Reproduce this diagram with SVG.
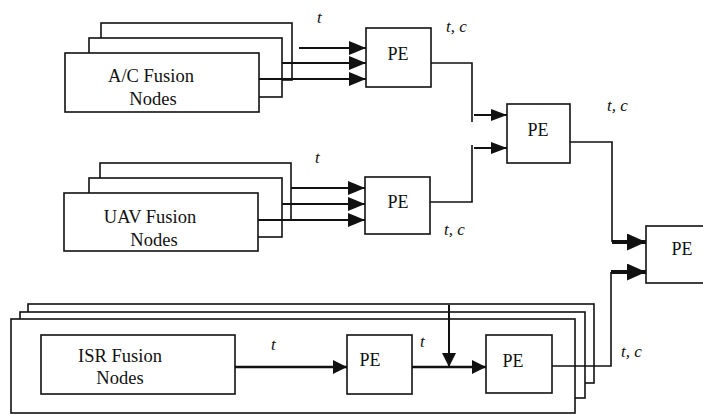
<svg xmlns="http://www.w3.org/2000/svg" width="703" height="415" viewBox="0 0 703 415">
<style>
.box{fill:#fff;stroke:#111;stroke-width:1.6}
.ln{fill:none;stroke:#111;stroke-width:1.6}
.ar{fill:none;stroke:#111;stroke-width:2}
.arb{fill:none;stroke:#111;stroke-width:2.6}
.arx{fill:none;stroke:#111;stroke-width:4}
.lbl{font-family:"Liberation Serif",serif;font-size:18.5px;fill:#111;text-anchor:middle}
.pe{font-family:"Liberation Serif",serif;font-size:18px;fill:#111;text-anchor:middle}
.it{font-family:"Liberation Serif",serif;font-size:17px;font-style:italic;fill:#111}
</style>
<defs>
<marker id="ah" markerWidth="17" markerHeight="14" refX="17" refY="7" orient="auto" markerUnits="userSpaceOnUse"><path d="M0,0 L17,7 L0,14 z" fill="#111"/></marker>
<marker id="ahs" markerWidth="16" markerHeight="12" refX="16" refY="6" orient="auto" markerUnits="userSpaceOnUse"><path d="M0,0 L16,6 L0,12 z" fill="#111"/></marker>
<marker id="ahi" markerWidth="14" markerHeight="14" refX="14" refY="7" orient="auto" markerUnits="userSpaceOnUse"><path d="M0,0 L14,7 L0,14 z" fill="#111"/></marker>
<marker id="ahb" markerWidth="19" markerHeight="17" refX="19" refY="8.5" orient="auto" markerUnits="userSpaceOnUse"><path d="M0,0 L19,8.5 L0,17 z" fill="#111"/></marker>
</defs>

<g id="ac-nodes">
<rect class="box" x="101" y="23" width="191" height="57"/>
<rect class="box" x="89" y="38" width="193" height="59"/>
<rect class="box" x="65" y="53" width="194" height="59"/>
<text class="lbl" x="151" y="82">A/C Fusion</text>
<text class="lbl" x="153" y="105">Nodes</text>
</g>

<g id="uav-nodes">
<rect class="box" x="100" y="163" width="191" height="57"/>
<rect class="box" x="89" y="178" width="193" height="59"/>
<rect class="box" x="64" y="193" width="194" height="58"/>
<text class="lbl" x="150" y="223">UAV Fusion</text>
<text class="lbl" x="154" y="246">Nodes</text>
</g>

<g id="isr-stack">
<rect class="box" x="28" y="304" width="566" height="79"/>
<rect class="box" x="20" y="312" width="565" height="86"/>
<rect class="box" x="11" y="319" width="564" height="94"/>
</g>

<g id="isr-nodes">
<rect class="box" x="41" y="335" width="194" height="59"/>
<text class="lbl" x="120" y="362">ISR Fusion</text>
<text class="lbl" x="120" y="384">Nodes</text>
</g>

<g id="pe-ac">
<rect class="box" x="366" y="28" width="65" height="59"/>
<text class="pe" x="398" y="60">PE</text>
</g>
<g id="pe-uav">
<rect class="box" x="365" y="177" width="65" height="57"/>
<text class="pe" x="398" y="208">PE</text>
</g>
<g id="pe-mid">
<rect class="box" x="507" y="104" width="63" height="59"/>
<text class="pe" x="538" y="136">PE</text>
</g>
<g id="pe-final">
<rect class="box" x="646" y="226" width="70" height="57"/>
<text class="pe" x="682" y="255">PE</text>
</g>
<g id="pe-isr1">
<rect class="box" x="347" y="335" width="65" height="59"/>
<text class="pe" x="370" y="366">PE</text>
</g>
<g id="pe-isr2">
<rect class="box" x="486" y="335" width="66" height="58"/>
<text class="pe" x="513" y="367">PE</text>
</g>

<g id="connectors">
<line class="ar" x1="299" y1="48" x2="366" y2="48" marker-end="url(#ah)"/>
<line class="ar" x1="282" y1="63" x2="366" y2="63" marker-end="url(#ah)"/>
<line class="ar" x1="259" y1="79" x2="366" y2="79" marker-end="url(#ah)"/>
<line class="ar" x1="291" y1="188" x2="365" y2="188" marker-end="url(#ah)"/>
<line class="ar" x1="282" y1="204" x2="365" y2="204" marker-end="url(#ah)"/>
<line class="ar" x1="258" y1="220" x2="365" y2="220" marker-end="url(#ah)"/>
<polyline class="ln" points="431,63 472,63 472,122"/>
<line class="ar" x1="474" y1="115" x2="507" y2="115" marker-end="url(#ahs)"/>
<polyline class="ln" points="430,202 472,202 472,145"/>
<line class="ar" x1="474" y1="148" x2="507" y2="148" marker-end="url(#ahs)"/>
<polyline class="ln" points="570,142 612,142 612,242"/>
<line class="arx" x1="612" y1="242" x2="646" y2="242" marker-end="url(#ahb)"/>
<polyline class="ln" points="552,366 611,366 611,272"/>
<line class="arx" x1="611" y1="272" x2="646" y2="272" marker-end="url(#ahb)"/>
<line class="arb" x1="235" y1="367" x2="347" y2="367" marker-end="url(#ahi)"/>
<line class="arb" x1="412" y1="367" x2="486" y2="367" marker-end="url(#ahi)"/>
<line class="ar" x1="449" y1="305" x2="449" y2="367" marker-end="url(#ahi)"/>
</g>

<g id="labels">
<text class="it" x="317" y="23">t</text>
<text class="it" x="446" y="32">t, c</text>
<text class="it" x="315" y="163">t</text>
<text class="it" x="444" y="235">t, c</text>
<text class="it" x="607" y="111">t, c</text>
<text class="it" x="271" y="350">t</text>
<text class="it" x="420" y="347">t</text>
<text class="it" x="621" y="357">t, c</text>
</g>
</svg>
